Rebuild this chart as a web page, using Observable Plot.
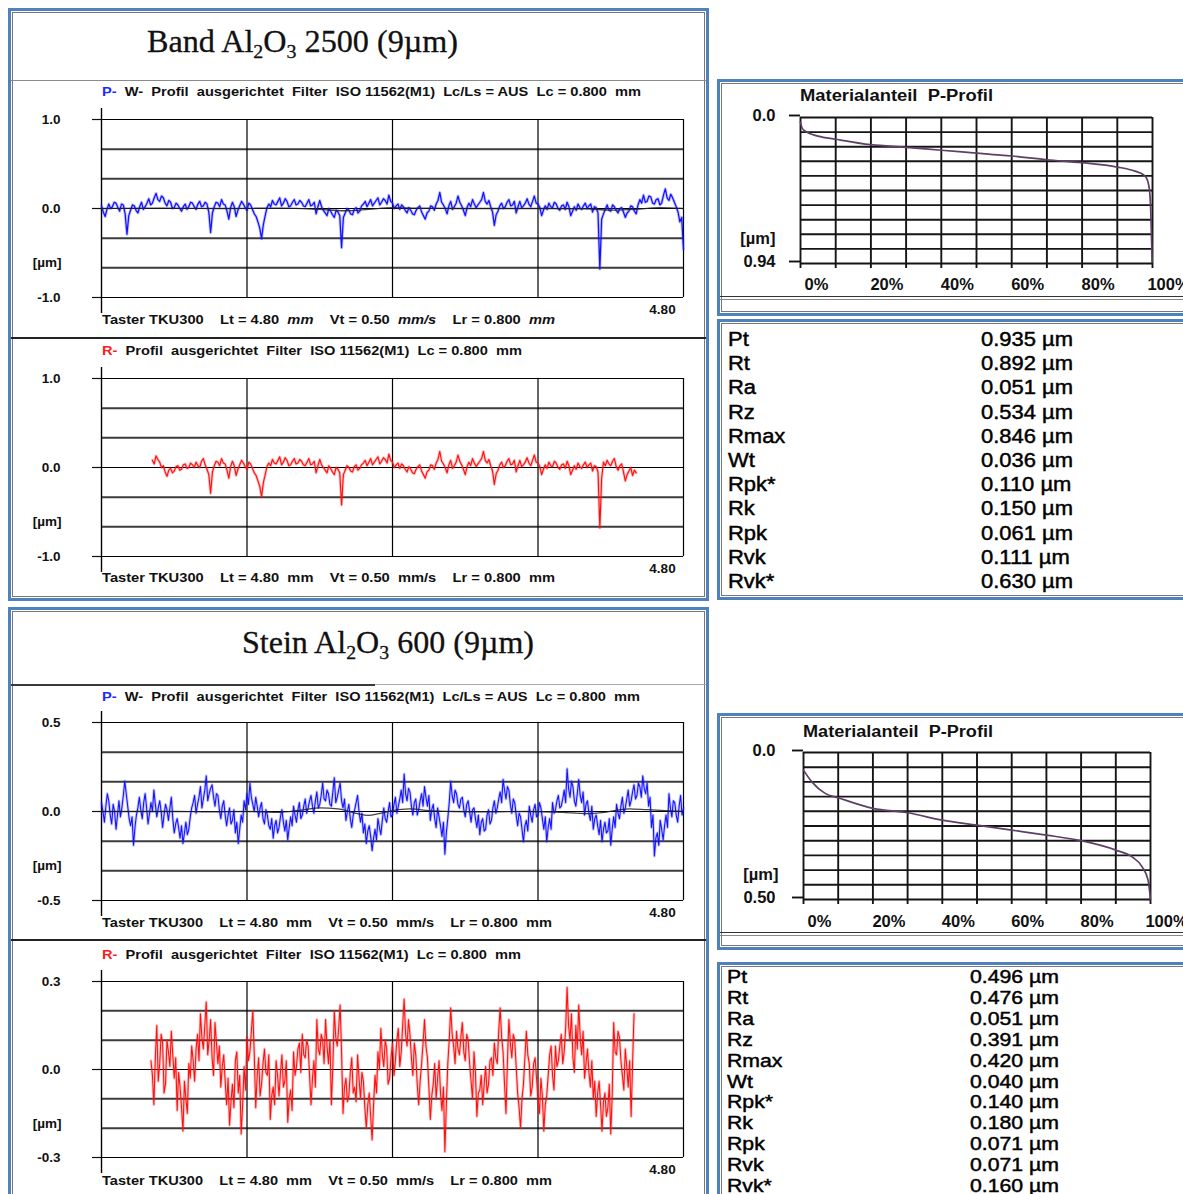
<!DOCTYPE html>
<html>
<head>
<meta charset="utf-8">
<script src="https://cdn.jsdelivr.net/npm/d3@7"></script>
<script src="https://cdn.jsdelivr.net/npm/@observablehq/plot@0.6"></script>
<style>
  html, body { margin: 0; padding: 0; background: #fff; }
  #page { position: relative; width: 1183px; height: 1194px; overflow: hidden; background: #fff; color: #111; }
  .box { position: absolute; box-sizing: border-box; border: 3px solid #4f81bd;
         box-shadow: inset 0 0 0 1px #fff, inset 0 0 0 2px #777; }
  .hl { position: absolute; }
  .t { position: absolute; white-space: pre; line-height: 1; transform-origin: 0 50%; }
  .t sub { font-size: 0.62em; vertical-align: -0.32em; line-height: 0; }
</style>
</head>
<body>
<div id="page"></div>
<script>
// ---------- measured profiles (µm), sampled evenly along the traverse ----------
// Band Al2O3 2500: P-profile over 0 … 4.80 mm
const bandP = [
  .03,-.04,-.09,-.01,.05,.00,.02,.07,.06,.01,-.03,.05,.04,-.06,-.29,-.08,-.02,.04,.03,-.02,
  -.05,.02,.07,-.01,.02,.06,.11,.04,.06,.12,.17,.10,.08,.14,.12,.06,.03,.09,.07,.00,
  .01,.06,.04,.00,-.03,.02,.05,-.01,.02,.07,.06,.02,-.01,.05,.08,.02,.03,.07,.05,-.04,
  -.27,-.05,.02,.07,.06,.02,.10,.05,.04,-.03,-.12,.01,.07,.02,-.09,-.02,.03,.08,.05,.01,
  -.02,.06,.04,-.01,-.06,-.09,-.15,-.22,-.34,-.18,-.08,.01,.05,.02,.09,.05,.04,.08,.12,.03,
  .06,.11,.08,.02,.03,.07,.10,.04,.05,.09,.07,.03,.02,.06,.10,.03,.04,.07,-.06,.02,
  .09,.02,-.02,-.05,-.08,.00,-.03,-.07,-.10,-.02,-.04,-.08,-.44,-.10,-.05,.00,-.02,-.06,-.07,-.01,
  .01,-.05,-.03,.03,.05,.08,.02,.06,.10,.03,.06,.09,.12,.04,.07,.11,.09,.05,.15,.08,
  .06,.00,.03,.05,-.01,.04,.02,-.02,-.05,.01,-.02,-.06,-.07,-.02,.01,.03,-.04,-.08,-.12,-.05,
  -.03,.03,.02,-.02,.05,.09,.18,.07,.04,.00,-.06,.03,.08,-.01,.02,.06,.14,.07,.03,-.02,
  -.08,.01,.06,.02,.10,.05,.01,.04,.07,.10,.18,.08,.05,.09,.02,-.04,-.19,-.07,-.03,.03,
  .06,.00,.02,.07,.10,.03,.04,.08,-.05,.02,.08,.01,.03,.06,.11,.05,.02,.08,.14,.06,
  .05,.01,-.08,-.02,.03,-.01,.06,.02,.01,.07,.05,.00,-.02,.03,.04,-.01,.07,.02,-.08,-.03,
  .02,-.02,.05,.01,-.01,.03,.06,.00,.03,.05,-.04,.02,.01,-.05,-.68,-.12,-.06,-.01,.04,-.02,
  -.03,.04,.02,-.02,-.05,.00,.01,-.04,-.10,-.05,-.03,.03,.02,-.03,-.06,.04,.10,.06,.15,.07,
  .08,.14,.13,.06,.05,.10,.11,.04,.06,.15,.22,.12,.09,.16,.12,.07,.02,-.04,-.15,-.10,
  -.46
];
const bandPRange = [0, 4.8];
// Band: R-profile over the evaluation length
const bandR = [
  .08,.04,.13,.09,.06,.00,.02,-.05,-.10,-.03,-.01,-.06,-.04,.01,.02,-.03,
  -.02,.03,.04,-.01,.00,.05,.03,.00,.06,.02,.00,.07,.10,.03,-.02,-.08,
  -.29,-.05,.02,.07,.06,.02,.10,.05,.04,-.03,-.12,.01,.07,.02,-.09,-.02,.03,.08,.05,.01,
  -.02,.06,.04,-.01,-.06,-.09,-.15,-.21,-.33,-.17,-.08,.01,.05,.02,.09,.05,.04,.08,.12,.03,
  .06,.11,.08,.02,.03,.07,.10,.04,.05,.09,.07,.03,.02,.06,.10,.03,.04,.07,-.06,.02,
  .09,.03,.00,-.03,-.06,.02,-.01,-.05,-.08,.00,-.02,-.06,-.42,-.08,-.03,.02,.00,-.04,-.05,.01,
  .03,-.03,-.01,.03,.05,.08,.02,.06,.10,.03,.06,.09,.12,.04,.07,.11,.09,.05,.15,.08,
  .06,.00,.03,.05,-.01,.04,.02,-.02,-.05,.01,-.02,-.06,-.07,-.02,.01,.03,-.04,-.08,-.12,-.05,
  -.03,.03,.02,-.02,.05,.09,.18,.07,.04,.00,-.06,.03,.08,-.01,.02,.06,.14,.07,.03,-.02,
  -.08,.01,.06,.02,.10,.05,.01,.04,.07,.10,.18,.08,.05,.09,.02,-.04,-.19,-.07,-.03,.03,
  .06,.00,.02,.07,.10,.03,.04,.08,-.05,.02,.08,.01,.03,.06,.11,.05,.02,.08,.14,.06,
  .05,.01,-.08,-.02,.03,-.01,.06,.02,.01,.07,.05,.00,-.02,.03,.04,-.01,.07,.02,-.08,-.03,
  .02,-.02,.05,.01,-.01,.03,.06,.00,.03,.05,-.04,.02,.01,-.05,
  -.68,-.12,
  .06,.02,.08,.04,.02,.07,.10,.01,-.03,.02,.04,-.05,-.15,-.08,-.04,.00,-.09,-.03,-.06
];
const bandRRange = [0.42, 4.41];
// Band: waviness line (mm, µm)
const bandWaveX = [0, 0.5, 1.0, 1.5, 1.8, 2.0, 2.2, 2.4, 2.6, 3.0, 3.6, 4.0, 4.2, 4.4, 4.6, 4.8];
const bandWaveY = [0, .005, 0, .005, -.01, -.025, -.01, .01, .005, 0, 0, -.005, -.018, -.01, .01, 0];

// Stein Al2O3 600: P-profile over 0 … 4.80 mm
const steinP = [
  .05,.00,-.06,.03,.10,.06,-.02,-.07,.04,.00,-.10,-.02,.06,-.03,.02,.09,.17,.10,.03,-.04,
  -.08,-.03,-.19,-.09,-.02,.02,.08,.01,-.04,.05,.10,.02,-.07,-.01,.05,.00,.12,.04,-.03,.02,
  .06,.00,-.09,-.02,.04,.01,-.05,.02,.08,-.04,-.12,-.07,-.04,-.09,-.15,-.08,-.18,-.12,-.06,-.13,
  -.10,-.03,.02,.05,.09,-.01,.04,.08,.14,.02,.07,.12,.20,.06,.10,.13,.15,.08,.03,.10,
  .09,.01,-.04,.03,.06,-.02,-.08,-.02,.02,-.07,-.05,.01,-.12,-.06,-.18,-.10,-.02,-.06,.06,.01,
  .10,.04,.16,.08,.04,.00,.08,.03,-.03,.02,.05,-.04,-.07,.01,-.02,-.08,-.10,-.04,-.15,-.08,
  -.05,-.12,-.09,-.03,.01,-.06,-.11,-.05,-.16,-.09,-.03,-.08,.03,-.02,-.06,.01,.05,-.04,-.02,.03,
  .07,-.01,.02,.06,.09,.03,-.01,.06,.11,.02,.04,.09,.16,.07,.06,.12,.10,.04,.03,.11,
  .19,.05,.08,.12,.16,.06,.02,.07,-.05,.00,.04,-.04,-.09,-.02,.01,.05,.09,.00,-.06,-.01,
  -.12,-.07,-.18,-.11,-.08,-.14,-.22,-.15,-.10,-.16,-.04,-.09,-.13,-.05,.02,-.04,-.06,.00,.05,-.03,
  -.02,.04,.08,-.01,.03,.07,.12,.05,.21,.10,.06,.13,.11,.03,-.02,.05,.07,-.02,.01,.06,
  .10,.03,.14,.08,.03,.09,-.05,.01,.04,-.04,-.09,.02,-.03,-.08,-.14,-.06,-.24,-.12,-.04,.05,
  .17,.09,.05,.12,.10,.04,.02,.07,.08,.01,-.03,.04,.06,.00,-.06,.01,.02,-.04,-.09,-.02,
  -.13,-.06,-.04,-.11,-.10,-.02,.01,-.07,-.05,.02,.06,-.01,.02,.07,.11,.05,.18,.12,.07,.14,
  .12,.04,-.01,.07,.05,-.02,-.08,-.01,-.03,-.10,-.17,-.08,-.05,-.11,.03,-.02,-.06,.01,.04,-.03,
  -.02,.05,.02,-.04,-.10,-.03,-.17,-.09,-.04,-.10,.05,-.01,.01,.06,.09,.02,.03,.07,.12,.05,
  .24,.13,.08,.17,.14,.06,.03,.10,.18,.09,.05,.11,-.02,.04,.06,-.01,-.05,.03,-.10,-.04,
  -.02,-.08,-.13,-.05,-.17,-.10,-.06,-.12,-.11,-.04,-.19,-.10,-.03,-.09,.04,-.01,-.04,.03,.08,-.01,
  .02,.07,.12,.03,.06,.11,.15,.07,.09,.16,.14,.08,.20,.13,.10,.16,.03,.08,-.09,-.02,
  -.25,-.15,-.12,-.19,-.05,-.10,-.16,-.08,-.02,-.09,.10,.02,-.03,.06,.05,-.02,-.06,.03,.09,-.02,
  .02
];
const steinPRange = [0, 4.8];
// Stein: R-profile over the evaluation length
const steinR = [
  .03,-.02,-.12,.04,.15,-.04,.02,.12,.09,-.08,-.05,.10,.06,.01,.13,.05,-.03,.04,-.14,-.01,
  -.06,-.13,-.21,-.04,-.10,-.15,.02,-.03,.08,.03,-.04,.07,.12,.03,.19,.11,.07,.15,.23,.05,
  .10,.17,.04,-.02,.16,.09,.02,.08,-.06,.01,.05,-.04,-.12,-.03,-.19,-.11,-.05,-.13,.03,.06,
  -.08,-.02,-.22,-.12,.01,-.07,.11,.03,.06,.13,.20,.05,-.13,-.02,.04,-.09,-.05,.02,.07,-.01,
  -.02,.05,-.17,-.09,-.06,-.12,.03,-.02,-.09,-.01,.05,-.06,-.04,.03,-.18,-.10,-.07,-.14,.06,-.02,
  .01,.07,.09,-.01,.12,.05,.04,.10,.08,-.02,-.12,-.03,.03,-.06,.17,.07,.05,.12,.10,.02,
  .17,.08,.02,.10,-.12,.01,.20,.11,.08,.14,.22,.06,-.15,-.06,-.03,-.11,-.09,-.01,.04,-.08,
  -.06,-.11,.05,-.03,-.10,-.01,-.04,-.13,-.20,-.12,-.08,-.16,-.24,-.12,-.02,-.08,.06,.00,.14,.05,
  .01,.10,.07,-.05,-.03,.04,.09,-.02,.03,.10,.14,.01,.06,.15,.24,.12,.08,.17,.12,.04,
  -.02,.09,.05,-.05,-.12,-.04,.02,.09,.17,.08,.04,-.06,-.17,-.09,-.05,.02,-.10,-.03,.03,-.08,
  -.14,-.06,-.28,-.12,.02,.10,.21,.12,.08,.02,.13,.07,.05,.11,.16,.06,.03,.12,.10,.02,
  -.04,-.10,.06,-.01,-.16,-.08,-.07,-.02,-.12,-.05,.01,-.08,-.05,.03,.04,-.02,.09,.04,.02,.13,
  .21,.11,.06,-.05,-.15,.03,.17,.09,.04,.12,.10,.01,-.08,-.13,-.20,-.10,-.05,.04,.13,.05,
  .02,-.09,-.06,.02,.04,-.03,-.10,-.15,-.03,-.09,-.21,-.12,-.09,-.02,.05,.08,-.02,-.07,.08,.01,
  .03,.08,.12,.02,.06,.14,.28,.15,.10,.19,.04,-.01,.15,.07,.22,.11,.05,.13,-.03,.02,
  .07,-.01,-.06,.03,-.10,-.04,-.16,-.08,-.04,-.12,-.21,-.11,-.08,-.16,-.13,-.05,-.22,-.09,.16,.06,
  .05,.13,.11,.03,-.02,-.07,.07,.01,-.06,.03,-.16,.02,.19
];
const steinRRange = [0.408, 4.392];
// Stein: waviness line (mm, µm)
const steinWaveX = [0, 0.3, 0.6, 0.9, 1.2, 1.45, 1.65, 1.8, 1.95, 2.1, 2.2, 2.3, 2.45, 2.55, 2.7, 2.9, 3.2, 3.5, 3.8, 4.0, 4.15, 4.35, 4.5, 4.8];
const steinWaveY = [0, 0, 0, -.002, 0, -.005, .008, .02, .015, -.01, -.022, -.01, .01, .015, .005, 0, -.002, 0, -.005, -.012, -.005, .015, .01, 0];

// ---------- material ratio (Abbott) curves: percent vs depth (µm) ----------
const bandAbbottPct   = [0, 0.5, 1.5, 5, 10, 20, 30, 40, 50, 60, 70, 80, 90, 95, 97.5, 98.5, 99.2, 99.5, 99.7, 99.9];
const bandAbbottDepth = [0.03, 0.07, 0.09, 0.12, 0.14, 0.175, 0.192, 0.211, 0.229, 0.248, 0.272, 0.291, 0.319, 0.345, 0.37, 0.40, 0.48, 0.60, 0.76, 0.93];
const steinAbbottPct   = [0, 2.4, 6.25, 10, 20, 30, 40, 50, 60, 70, 80, 90, 94.7, 97.6, 99.3, 100];
const steinAbbottDepth = [0.06, 0.10, 0.139, 0.154, 0.19, 0.205, 0.23, 0.247, 0.264, 0.281, 0.30, 0.332, 0.355, 0.389, 0.434, 0.50];

// ---------- roughness parameters ----------
const paramNames  = ["Pt", "Rt", "Ra", "Rz", "Rmax", "Wt", "Rpk*", "Rk", "Rpk", "Rvk", "Rvk*"];
const bandParams  = [0.935, 0.892, 0.051, 0.534, 0.846, 0.036, 0.110, 0.150, 0.061, 0.111, 0.630];
const steinParams = [0.496, 0.476, 0.051, 0.391, 0.420, 0.040, 0.140, 0.180, 0.071, 0.071, 0.160];

// ---------- axis ticks ----------
const profileXGrid = [1.2, 2.4, 3.6, 4.8];
const profileXEndTick = [4.8];
const bandYTicks  = [-1, 0, 1];
const bandYGrid   = [-1, -2/3, -1/3, 0, 1/3, 2/3, 1];
const steinPYTicks = [-0.5, 0, 0.5];
const steinPYGrid  = [-0.5, -1/3, -1/6, 0, 1/6, 1/3, 0.5];
const steinRYTicks = [-0.3, 0, 0.3];
const steinRYGrid  = [-0.3, -0.2, -0.1, 0, 0.1, 0.2, 0.3];
const materialXGrid  = [0, 10, 20, 30, 40, 50, 60, 70, 80, 90, 100];
const materialXTicks = [0, 20, 40, 60, 80, 100];

// ---------- text ----------
const headerP = `<span style="color:#1c2cff">P-</span>  W-  Profil  ausgerichtet  Filter  ISO 11562(M1)  Lc/Ls = AUS  Lc = 0.800  mm`;
const headerR = `<span style="color:#ff1a1a">R-</span>  Profil  ausgerichtet  Filter  ISO 11562(M1)  Lc = 0.800  mm`;
const footer = `Taster TKU300    Lt = 4.80  mm    Vt = 0.50  mm/s    Lr = 0.800  mm`;
const footerItalic = `Taster TKU300    Lt = 4.80  <i>mm</i>    Vt = 0.50  <i>mm/s</i>    Lr = 0.800  <i>mm</i>`;

const SANS = '"Liberation Sans", Arial, sans-serif';
const SERIF = '"Liberation Serif", "Times New Roman", serif';
const BLUE = "#1212ff";
const RED = "#ff1010";

const page = document.getElementById("page");

function box(l, t, w, h) {
  const d = document.createElement("div");
  d.className = "box";
  Object.assign(d.style, {left: l + "px", top: t + "px", width: w + "px", height: h + "px"});
  page.appendChild(d);
}
function hline(x1, x2, y, th, color) {
  const d = document.createElement("div");
  d.className = "hl";
  Object.assign(d.style, {left: x1 + "px", top: y + "px", width: (x2 - x1) + "px", height: th + "px", background: color});
  page.appendChild(d);
}
function txt(html, x, y, o = {}) {
  const el = document.createElement("div");
  el.className = "t";
  el.innerHTML = html;
  el.style.left = x + "px";
  el.style.top = y + "px";
  el.style.fontSize = (o.size || 13) + "px";
  el.style.fontWeight = o.weight || "normal";
  el.style.fontFamily = o.family || SANS;
  if (o.color) el.style.color = o.color;
  if (o.stroke) el.style.webkitTextStroke = o.stroke;
  page.appendChild(el);
  let sx = o.sx || 1;
  if (o.width) sx = o.width / el.getBoundingClientRect().width;
  el.style.transform = `translateY(-50%) scaleX(${sx})`;
  return sx;
}

// ---------- frames ----------
box(8, 8, 701, 593);
box(8, 607, 701, 620);
box(717, 79, 480, 237);
box(717, 319, 480, 281);
box(717, 713, 480, 237);
box(717, 962, 480, 260);

hline(11, 706, 80, 1, "#8a8a8a");
hline(11, 706, 337, 2, "#222");
hline(11, 375, 684, 2, "#3a3a3a");
hline(375, 706, 684, 1, "#aaa");
hline(11, 706, 939, 2, "#222");
hline(720, 1183, 296, 1, "#333");
hline(720, 1183, 299, 1, "#888");
hline(720, 1183, 932, 1, "#333");
hline(720, 1183, 935, 1, "#888");

// ---------- profile charts ----------
function drawProfile(c) {
  const n = c.values.length;
  const step = (c.range[1] - c.range[0]) / (n - 1);
  const pts = c.values.map((v, i) => ({x: c.range[0] + i * step, y: v}));
  const left = 10, width = 690;
  const padTop = 19, padBottom = 26;
  const svgTop = c.top - padTop;
  const height = c.bottom - c.top + padTop + padBottom;
  const minor = c.grid.filter(g => !c.ticks.includes(g));
  const fmt = d => d.toFixed(1);
  const marks = [
    Plot.ruleY(minor, {stroke: "#3c3c3c", strokeWidth: 2}),
    Plot.ruleY(c.ticks, {stroke: "#000", strokeWidth: 1.2}),
    Plot.ruleX(profileXGrid, {stroke: "#000", strokeWidth: 1.2}),
    Plot.ruleX([0], {stroke: "#000", strokeWidth: 1.4, insetTop: -11, insetBottom: -16}),
    Plot.axisY({ticks: c.ticks, tickFormat: fmt, tickSize: 9, tickPadding: 32, strokeWidth: 1.2,
                fontSize: 13.5, fontWeight: "bold", label: null}),
    Plot.text([-0.61 * c.yMax], {y: d => d, text: () => "[µm]", frameAnchor: "left", dx: -40,
                textAnchor: "end", fontSize: 13.5, fontWeight: "bold"}),
    Plot.axisX({ticks: profileXEndTick, tickFormat: d => d.toFixed(2), tickSize: 0, tickPadding: 7, dx: -21,
                fontSize: 13.5, fontWeight: "bold", label: null}),
    // soft halo under the trace, then the trace itself
    Plot.line(pts, {x: "x", y: "y", stroke: c.color, strokeWidth: c.sw + 1.8, strokeOpacity: 0.25, strokeLinejoin: "round"}),
    Plot.line(pts, {x: "x", y: "y", stroke: c.color, strokeWidth: c.sw, strokeLinejoin: "round"})
  ];
  if (c.wave) {
    const w = c.wave[0].map((x, i) => ({x, y: c.wave[1][i]}));
    marks.push(Plot.line(w, {x: "x", y: "y", stroke: "#222", strokeWidth: 1.3, strokeOpacity: 0.85, curve: "monotone-x"}));
  }
  const svg = Plot.plot({
    width, height,
    marginLeft: 101 - left, marginRight: left + width - 683,
    marginTop: padTop, marginBottom: padBottom,
    x: {domain: [0, 4.8], axis: null, label: null},
    y: {domain: [-c.yMax, c.yMax], axis: null, label: null},
    style: {position: "absolute", left: left + "px", top: svgTop + "px", background: "transparent",
            overflow: "visible", color: "#111", fontFamily: SANS},
    marks
  });
  page.appendChild(svg);
}

drawProfile({top: 119, bottom: 297, yMax: 1, ticks: bandYTicks, grid: bandYGrid,
             values: bandP, range: bandPRange, color: BLUE, sw: 1.25, wave: [bandWaveX, bandWaveY]});
drawProfile({top: 378, bottom: 556, yMax: 1, ticks: bandYTicks, grid: bandYGrid,
             values: bandR, range: bandRRange, color: RED, sw: 1.15});
drawProfile({top: 722, bottom: 900, yMax: 0.5, ticks: steinPYTicks, grid: steinPYGrid,
             values: steinP, range: steinPRange, color: BLUE, sw: 1.05, wave: [steinWaveX, steinWaveY]});
drawProfile({top: 981, bottom: 1157, yMax: 0.3, ticks: steinRYTicks, grid: steinRYGrid,
             values: steinR, range: steinRRange, color: RED, sw: 1.05});

// ---------- material ratio charts ----------
function drawMaterial(c) {
  const curve = c.pct.map((p, i) => ({p, d: c.depth[i]}));
  const left = 720, width = 463, height = 200;
  const padTop = 17;
  const svgTop = c.y0 - padTop;
  const hGrid = d3.range(11).map(k => k * c.max / 10);
  const svg = Plot.plot({
    width, height,
    marginLeft: c.x0 - left, marginRight: left + width - c.x1,
    marginTop: padTop, marginBottom: height - (c.y1 - svgTop),
    x: {domain: [0, 100], axis: null, label: null},
    y: {domain: [0, c.max], reverse: true, axis: null, label: null},
    style: {position: "absolute", left: left + "px", top: svgTop + "px", background: "transparent",
            color: "#111", fontFamily: SANS},
    marks: [
      Plot.ruleY(hGrid, {stroke: "#151515", strokeWidth: 1.9}),
      Plot.ruleX(materialXGrid, {stroke: "#151515", strokeWidth: 1.9, insetBottom: -5}),
      Plot.line(curve, {x: "p", y: "d", stroke: "#5e4066", strokeWidth: 1.7, curve: "monotone-x"}),
      Plot.axisY({ticks: [0, c.max], tickFormat: d => (d === 0 ? "0.0" : c.maxLabel), tickSize: 11,
                  tickPadding: c.tickPad, strokeWidth: 1.9, dy: -2, fontSize: 16.5, fontWeight: "bold", label: null}),
      Plot.text([0.83 * c.max], {y: d => d, text: () => "[µm]", frameAnchor: "left", dx: -25,
                  textAnchor: "end", fontSize: 16.5, fontWeight: "bold"}),
      Plot.axisX({ticks: materialXTicks, tickFormat: d => d + "%", tickSize: 0, tickPadding: c.xPad, dx: 16,
                  fontSize: 16.5, fontWeight: "bold", label: null})
    ]
  });
  page.appendChild(svg);
}

drawMaterial({x0: 800, x1: 1152, y0: 117, y1: 263, max: 0.94, maxLabel: "0.94", tickPad: 14, xPad: 15,
              pct: bandAbbottPct, depth: bandAbbottDepth});
drawMaterial({x0: 803, x1: 1150, y0: 752, y1: 899, max: 0.50, maxLabel: "0.50", tickPad: 17, xPad: 16,
              pct: steinAbbottPct, depth: steinAbbottDepth});

// ---------- titles and captions ----------
txt(`Band Al<sub>2</sub>O<sub>3</sub> 2500 (9µm)`, 147, 41, {size: 31, family: SERIF, width: 311, stroke: "0.3px #111"});
txt(`Stein Al<sub>2</sub>O<sub>3</sub> 600 (9µm)`, 242, 642, {size: 31, family: SERIF, width: 292, stroke: "0.3px #111"});

txt(headerP, 102, 91, {size: 13, weight: "bold", width: 539});
txt(footerItalic, 102, 319, {size: 13, weight: "bold", width: 453});
txt(headerR, 102, 350, {size: 13, weight: "bold", width: 420});
txt(footer, 102, 577, {size: 13, weight: "bold", width: 453});
txt(headerP, 102, 696, {size: 13, weight: "bold", width: 538});
txt(footer, 102, 922, {size: 13, weight: "bold", width: 450});
txt(headerR, 102, 954, {size: 13, weight: "bold", width: 419});
txt(footer, 102, 1180, {size: 13, weight: "bold", width: 450});

txt("Materialanteil  P-Profil", 800, 96, {size: 16, weight: "bold", width: 193});
txt("Materialanteil  P-Profil", 803, 732, {size: 16, weight: "bold", width: 190});

// ---------- parameter tables ----------
function paramTable(values, x0, xv, y0, dy, size, valueWidth) {
  const style = {size, stroke: "0.45px #000", color: "#000"};
  const sx = txt(values[0].toFixed(3) + " µm", xv, y0, {...style, width: valueWidth});
  values.forEach((v, i) => {
    const y = y0 + i * dy;
    if (i > 0) txt(v.toFixed(3) + " µm", xv, y, {...style, sx});
    txt(paramNames[i], x0, y, {...style, sx});
  });
}
paramTable(bandParams, 728, 981, 340, 24.2, 19.5, 92);
paramTable(steinParams, 727, 970, 977, 20.9, 18, 89);
</script>
</body>
</html>
